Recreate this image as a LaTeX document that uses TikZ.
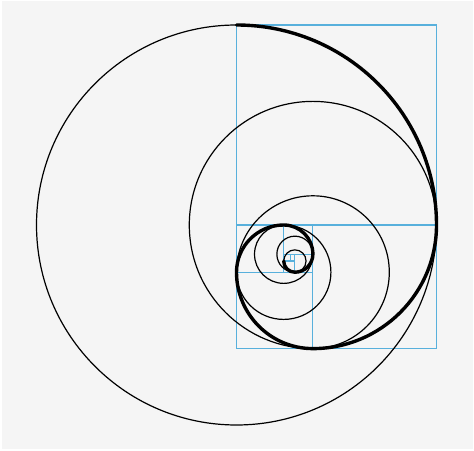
\documentclass[tikz,border=0pt]{standalone}
\usetikzlibrary{calc}

\definecolor{paper}{HTML}{F5F5F5}
\definecolor{gridblue}{RGB}{88,176,220}

\begin{document}
\begin{tikzpicture}[%
    x=1pt, y=1pt,                % one unit = one pixel of the reference
    ]

\tikzset{
  frame/.style={draw=gridblue, line width=1.1pt},
  ring/.style={draw=black, line width=1.2pt},
  spiral/.style={draw=black, line width=3.4pt, line cap=round}
  };

% Background
\fill[white] (0,0) rectangle (474,450);
\fill[paper] (1.5,1.5) rectangle (472.5,448.5);
\useasboundingbox (0,0) rectangle (474,450);

% Centres of the quarter arcs
\coordinate (c1) at (236.5,225);
\coordinate (c2) at (312.9,225);
\coordinate (c3) at (312.9,177.8);
\coordinate (c4) at (283.7,177.8);
\coordinate (c5) at (283.7,195.8);
\coordinate (c6) at (294.9,195.8);
\coordinate (c7) at (294.9,189.0);

% Golden rectangle and its squares
\draw[frame] (236.5,101.4) rectangle (436.5,425);
\draw[frame] (236.5,225)   -- (436.5,225);
\draw[frame] (312.9,101.4) -- (312.9,225);
\draw[frame] (236.5,177.8) -- (312.9,177.8);
\draw[frame] (283.7,177.8) -- (283.7,225);
\draw[frame] (283.7,195.8) -- (312.9,195.8);
\draw[frame] (294.9,177.8) -- (294.9,195.8);
\draw[frame] (283.7,189.0) -- (294.9,189.0);
\draw[frame] (290.6,189.0) -- (290.6,195.8);

% Full circles
\foreach \c/\r in {c1/200, c2/123.607, c3/76.393, c4/47.214,
                   c5/29.180, c6/18.034, c7/11.146}
  \draw[ring] (\c) circle[radius=\r];

% Spiral
\draw[spiral] (236.5,425)
  \foreach \r [count=\i] in {200,123.607,76.393,47.214,29.180,18.034,11.146}
    { arc[start angle={90-90*(\i-1)}, delta angle=-90, radius=\r] };

\end{tikzpicture}
\end{document}
